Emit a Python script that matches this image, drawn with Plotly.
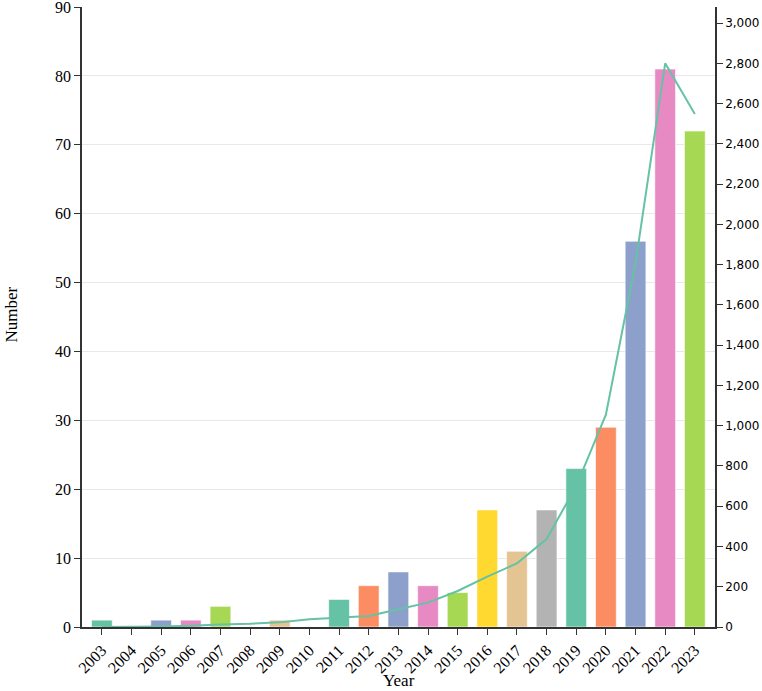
import plotly.graph_objects as go

years = [str(y) for y in range(2003, 2024)]
counts = [1, 0, 1, 1, 3, 0, 1, 0, 4, 6, 8, 6, 5, 17, 11, 17, 23, 29, 56, 81, 72]
citations = [0, 0, 2, 6, 13, 16, 23, 38, 48, 55, 88, 121, 179, 250, 316, 437, 700, 1055, 1808, 2800, 2548]
palette = ["#66c2a5", "#fc8d62", "#8da0cb", "#e78ac3", "#a6d854", "#ffd92f", "#e5c494", "#b3b3b3"]
bar_colors = [palette[i % len(palette)] for i in range(len(years))]

fig = go.Figure()
fig.add_trace(go.Bar(
    x=years, y=counts,
    marker=dict(color=bar_colors, line=dict(color="rgba(255,255,255,0.6)", width=1)),
    showlegend=False,
))
fig.add_trace(go.Scatter(
    x=years, y=citations, mode="lines", yaxis="y2",
    line=dict(color="#66c2a5", width=2),
    showlegend=False,
))

serif = "Liberation Serif, Times New Roman, serif"
fig.update_layout(
    width=762, height=691,
    margin=dict(l=82, r=47, t=7, b=64),
    plot_bgcolor="white", paper_bgcolor="white",
    bargap=0.3,
    xaxis=dict(
        type="category", range=[-0.67, 20.68], automargin=False,
        tickangle=-45, tickfont=dict(family=serif, size=16, color="black"),
        ticks="outside", ticklen=6, tickcolor="#333",
        showline=True, linecolor="#333", linewidth=1.5,
        showgrid=False,
    ),
    yaxis=dict(
        range=[0, 90.01], tickvals=list(range(0, 91, 10)), automargin=False,
        ticklabeloverflow="allow",
        tickfont=dict(family=serif, size=16, color="black"),
        ticks="outside", ticklen=6, tickcolor="#333",
        showline=True, linecolor="#333", linewidth=1.5,
        showgrid=True, gridcolor="#e8e8e8", gridwidth=1,
        zeroline=False,
    ),
    yaxis2=dict(
        overlaying="y", side="right", automargin=False,
        ticklabeloverflow="allow",
        range=[0, 3080], dtick=200, tickformat=",",
        tickfont=dict(family="DejaVu Sans, Verdana, sans-serif", size=12, color="black"),
        ticks="outside", ticklen=6, tickcolor="#333",
        showline=True, linecolor="#333", linewidth=1.5,
        showgrid=False, zeroline=False,
    ),
    annotations=[
        dict(text="Year", xref="paper", yref="paper", x=0.5, y=-0.087,
             xanchor="center", yanchor="middle", showarrow=False,
             font=dict(family=serif, size=17, color="black")),
        dict(text="Number", xref="paper", yref="paper", x=-0.1106, y=0.504,
             xanchor="center", yanchor="middle", showarrow=False, textangle=-90,
             font=dict(family=serif, size=17, color="black")),
    ],
)

fig.write_html("out.html", config={"displayModeBar": False},
               post_script="document.body.style.margin='0';")
